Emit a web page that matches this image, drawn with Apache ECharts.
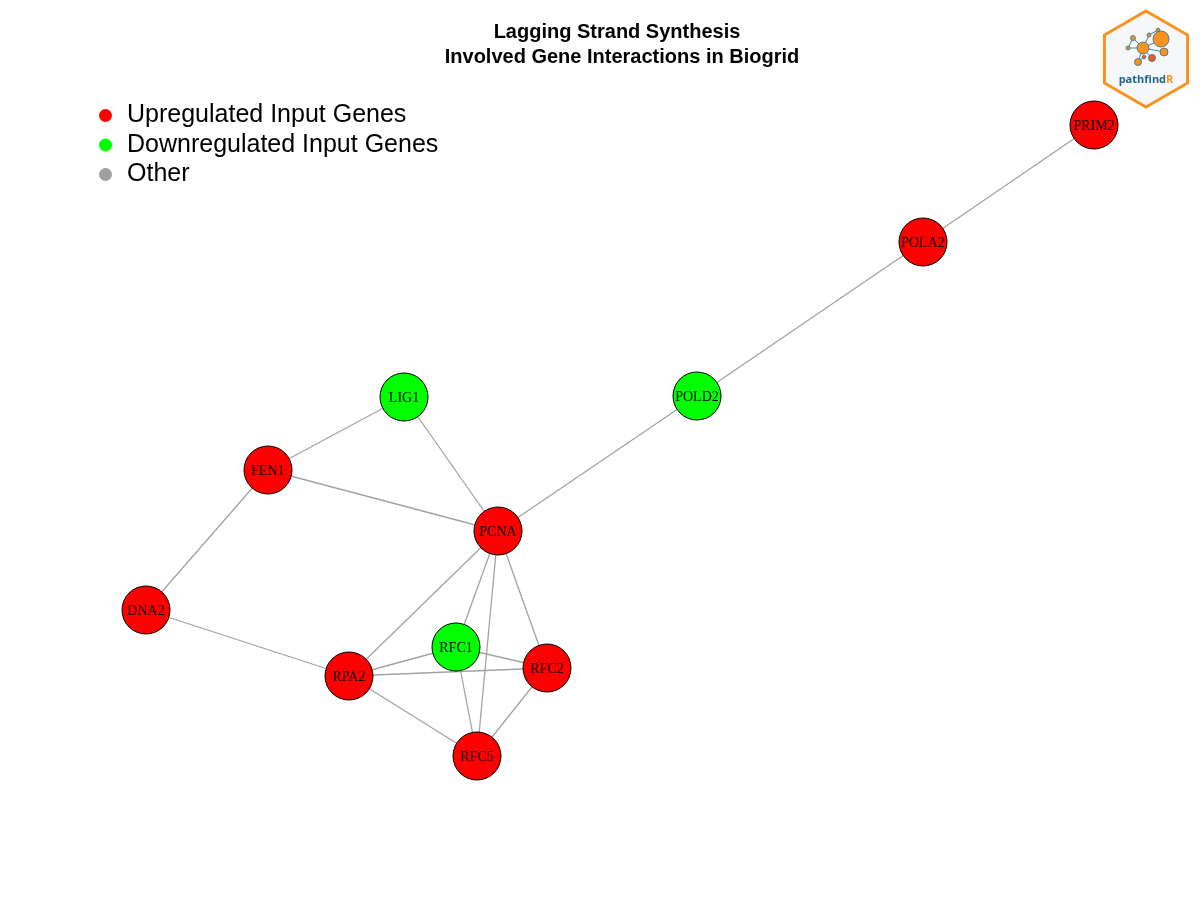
<!DOCTYPE html>
<html>
<head>
<meta charset="utf-8">
<script src="https://cdn.jsdelivr.net/npm/echarts@6/dist/echarts.min.js"></script>
<style>
  html, body { margin: 0; padding: 0; background: #fff; }
  #chart { width: 1200px; height: 900px; }
</style>
</head>
<body>
<div id="chart"></div>
<script>
// genes, their group and their position (pixel space)
const genes = ['PRIM2', 'POLA2', 'POLD2', 'LIG1', 'FEN1', 'PCNA', 'DNA2', 'RFC1', 'RFC2', 'RPA2', 'RFC5'];
const geneGroup = [0, 0, 1, 1, 0, 0, 0, 1, 0, 0, 0];
const geneX = [1094, 923, 697, 404, 268, 498, 146, 456, 547, 349, 477];
const geneY = [125, 242, 396, 397, 470, 531, 610, 647, 668, 676, 756];

const edgeFrom = ['PRIM2', 'POLA2', 'POLD2', 'LIG1', 'LIG1', 'FEN1', 'FEN1', 'DNA2', 'PCNA', 'PCNA', 'PCNA', 'PCNA', 'RPA2', 'RPA2', 'RPA2', 'RFC1', 'RFC1', 'RFC2'];
const edgeTo   = ['POLA2', 'POLD2', 'PCNA', 'FEN1', 'PCNA', 'PCNA', 'DNA2', 'RPA2', 'RPA2', 'RFC1', 'RFC2', 'RFC5', 'RFC1', 'RFC2', 'RFC5', 'RFC2', 'RFC5', 'RFC5'];

const groupNames = ['Upregulated Input Genes', 'Downregulated Input Genes', 'Other'];
const groupColors = ['#ff0000', '#00ff00', '#a0a0a0'];

const titleLines = ['Lagging Strand Synthesis', 'Involved Gene Interactions in Biogrid'];

let chart = echarts.init(document.getElementById('chart'));

let nodes = genes.map((g, i) => ({
    name: g,
    value: [geneX[i], geneY[i]],
    category: geneGroup[i]
}));
let links = edgeFrom.map((s, i) => ({ source: s, target: edgeTo[i] }));

// petit logo pathfindR en haut a droite
function hexPoints(cx, cy, r) {
    let pts = [];
    for (let k = 0; k < 6; k++) {
        let a = Math.PI / 180 * (60 * k - 90);
        pts.push([cx + r * Math.cos(a), cy + r * Math.sin(a)]);
    }
    return pts;
}
const logoLines = [[1133, 38, 1143, 48], [1133, 38, 1128, 48], [1143, 48, 1160, 40], [1143, 48, 1149, 35], [1149, 35, 1158, 30],
    [1143, 48, 1164, 52], [1143, 48, 1138, 62], [1143, 48, 1152, 58], [1128, 48, 1143, 48], [1138, 62, 1144, 57]];
const logoDots = [[1161, 39, 8, '#f7931e'], [1143, 48, 6, '#f7931e'], [1164, 52, 4, '#f7931e'], [1152, 58, 3.5, '#f05a28'],
    [1138, 62, 3.5, '#f7931e'], [1133, 38, 2.5, '#f7931e'], [1128, 48, 2, '#f7931e'], [1149, 35, 2, '#f7931e'], [1158, 30, 1.8, '#f7931e'], [1144, 57, 1.8, '#f05a28']];

let logo = [{
    type: 'polygon',
    shape: { points: hexPoints(1146, 59, 48) },
    style: { fill: '#f5f7f9', stroke: '#f7931e', lineWidth: 3 }
}];
logoLines.forEach(l => logo.push({
    type: 'line', shape: { x1: l[0], y1: l[1], x2: l[2], y2: l[3] },
    style: { stroke: '#2f8fb8', lineWidth: 1 }
}));
logoDots.forEach(d => logo.push({
    type: 'circle', shape: { cx: d[0], cy: d[1], r: d[2] },
    style: { fill: d[3], stroke: '#2f6f95', lineWidth: 0.8 }
}));
logo.push({
    type: 'text', x: 1146, y: 80,
    style: {
        text: '{a|pathfind}{b|R}', align: 'center', verticalAlign: 'middle',
        rich: {
            a: { fontFamily: 'Open Sans', fontWeight: 'bold', fontSize: 11, fill: '#1e6690' },
            b: { fontFamily: 'Open Sans', fontWeight: 'bold', fontSize: 11, fill: '#f7931e' }
        }
    }
});

const titleFont = { fontFamily: 'Liberation Sans', fontWeight: 'bold', fontSize: 20, color: '#000' };

let option = {
    backgroundColor: '#ffffff',
    animation: false,
    title: [
        { text: titleLines[0], left: 612, top: 17, textAlign: 'center', textStyle: titleFont },
        { text: titleLines[1], left: 617, top: 42, textAlign: 'center', textStyle: titleFont }
    ],
    legend: {
        orient: 'vertical',
        left: 94,
        top: 98,
        itemWidth: 13,
        itemHeight: 13,
        itemGap: 4.5,
        icon: 'circle',
        selectedMode: false,
        data: groupNames,
        itemStyle: { borderWidth: 0 },
        textStyle: { fontFamily: 'Liberation Sans', fontSize: 25, color: '#000', padding: [0, 0, 0, 10] }
    },
    grid: { left: 0, right: 0, top: 0, bottom: 0 },
    xAxis: { type: 'value', min: 0, max: 1200, show: false },
    yAxis: { type: 'value', min: 0, max: 900, inverse: true, show: false },
    graphic: logo,
    series: [{
        type: 'graph',
        layout: 'none',
        coordinateSystem: 'cartesian2d',
        symbol: 'circle',
        symbolSize: 48,
        categories: groupNames.map((n, i) => ({ name: n, itemStyle: { color: groupColors[i] } })),
        itemStyle: { borderColor: '#000', borderWidth: 1 },
        label: {
            show: true,
            position: 'inside',
            offset: [0, 1],
            fontFamily: 'Liberation Serif',
            fontSize: 14,
            color: '#000'
        },
        lineStyle: { color: '#a3a3a3', width: 1.3, opacity: 1, curveness: 0 },
        emphasis: { disabled: true },
        data: nodes,
        links: links
    }]
};

chart.setOption(option);
</script>
</body>
</html>
